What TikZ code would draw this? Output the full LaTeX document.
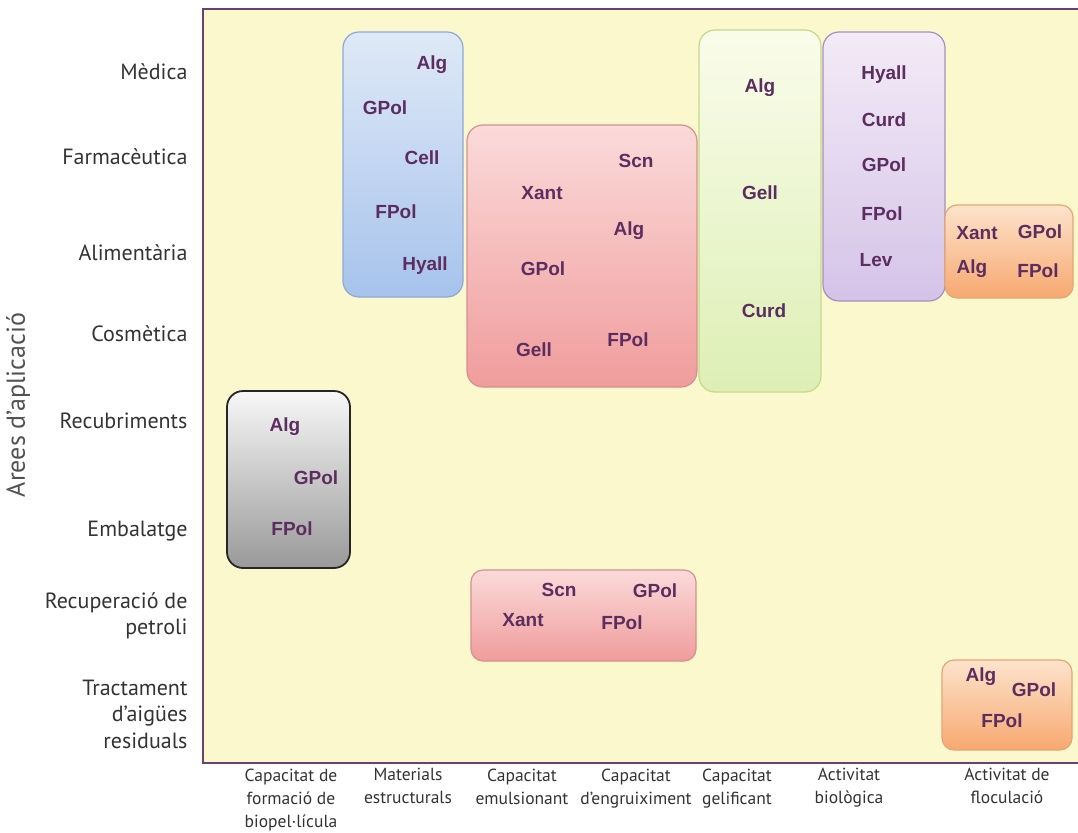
\documentclass[tikz,border=0pt]{standalone}
\usepackage{fontspec}
\setmainfont{PT Sans}
\newfontfamily\abbrfont{Liberation Sans}
\definecolor{plotyellow}{HTML}{FCF8CE}
\definecolor{framepurple}{HTML}{6E3F73}
\definecolor{polytext}{HTML}{5C2D5F}
\definecolor{labgray}{HTML}{333333}
\definecolor{bluetop}{HTML}{DFE9F7}
\definecolor{bluebot}{HTML}{A7C3EC}
\definecolor{blueedge}{HTML}{8DA9D8}
\definecolor{pinktop}{HTML}{FBDADA}
\definecolor{pinkbot}{HTML}{F09C9C}
\definecolor{pinkedge}{HTML}{D69090}
\definecolor{greentop}{HTML}{FAFCEB}
\definecolor{greenbot}{HTML}{DDEFB5}
\definecolor{greenedge}{HTML}{C3DA8A}
\definecolor{lilactop}{HTML}{F3EBF7}
\definecolor{lilacbot}{HTML}{D5C3E8}
\definecolor{lilacedge}{HTML}{A98FC0}
\definecolor{orangetop}{HTML}{FDE3CC}
\definecolor{orangebot}{HTML}{F7A870}
\definecolor{orangeedge}{HTML}{E4A676}

\begin{document}
\begin{tikzpicture}[x=1pt,y=-1pt,
  panel/.style={draw, rounded corners=16pt, line width=1.2pt, inner sep=0pt},
  poly/.style={font=\abbrfont\bfseries\fontsize{19}{19}\selectfont, text=polytext},
  area/.style={anchor=east, align=right, font=\fontsize{22}{26.5}\selectfont, text=labgray},
  skill/.style={anchor=north, align=center, font=\fontsize{17.5}{23}\selectfont, text=labgray}]
\useasboundingbox (0,0) rectangle (1078,832);

% plot area
\fill[plotyellow] (203,9) rectangle (1080,763);
\draw[framepurple, line width=2.5pt] (1080,9) -- (203,9) -- (203,763) -- (1080,763);

% axis title
\node[rotate=90, font=\fontsize{26}{26}\selectfont, text=labgray!85] (ytitle) at (18,405) {Arees d’aplicació};

% areas of application
\node[area] (med) at (191,72) {Mèdica};
\node[area] (farm) at (191,157) {Farmacèutica};
\node[area] (alim) at (191,253) {Alimentària};
\node[area] (cosm) at (191,334) {Cosmètica};
\node[area] (recub) at (191,421) {Recubriments};
\node[area] (embal) at (191,531) {Embalatge};
\node[area] (petr) at (191,616) {Recuperació de\\petroli};
\node[area] (aigues) at (191,714) {Tractament\\d’aigües\\residuals};

% properties
\node[skill] (biopel) at (291,765) {Capacitat de\\formació de\\biopel·lícula};
\node[skill] (estruct) at (408,765) {Materials\\estructurals};
\node[skill] (emuls) at (522,765) {Capacitat\\emulsionant};
\node[skill] (engr) at (636,765) {Capacitat\\d’engruiximent};
\node[skill] (gelif) at (737,765) {Capacitat\\gelificant};
\node[skill] (biol) at (849,765) {Activitat\\biològica};
\node[skill] (flocul) at (1007,765) {Activitat de\\floculació};

% panels
\node[panel, draw=blueedge, top color=bluetop, bottom color=bluebot,
  minimum width=120pt, minimum height=265pt] (matbox) at (403,164.5) {};
\node[panel, draw=pinkedge, top color=pinktop, bottom color=pinkbot,
  minimum width=230pt, minimum height=262pt] (emulbox) at (582,256) {};
\node[panel, draw=greenedge, top color=greentop, bottom color=greenbot,
  minimum width=122pt, minimum height=362pt] (gelbox) at (760,211) {};
\node[panel, draw=lilacedge, top color=lilactop, bottom color=lilacbot,
  minimum width=122pt, minimum height=269pt] (biobox) at (884,166.5) {};
\node[panel, rounded corners=12pt, draw=orangeedge, top color=orangetop, bottom color=orangebot,
  minimum width=128pt, minimum height=93pt] (flocbox) at (1009,251.5) {};
\node[panel, draw=black!85, line width=1.8pt, top color=black!3, bottom color=black!40,
  minimum width=123pt, minimum height=177pt] (pelbox) at (288.5,479.5) {};
\node[panel, rounded corners=12pt, draw=pinkedge, top color=pinktop, bottom color=pinkbot,
  minimum width=225pt, minimum height=91pt] (petrbox) at (583.5,615.5) {};
\node[panel, rounded corners=12pt, draw=orangeedge, top color=orangetop, bottom color=orangebot,
  minimum width=130pt, minimum height=90pt] (aigbox) at (1007,705) {};

% polymers, materials estructurals
\node[poly] (m1) at (432,65) {Alg};
\node[poly] (m2) at (385,108) {GPol};
\node[poly] (m3) at (422,158) {Cell};
\node[poly] (m4) at (396,212) {FPol};
\node[poly] (m5) at (425,266) {Hyall};
% emulsionant / engruiximent
\node[poly] (e1) at (636,161) {Scn};
\node[poly] (e2) at (542,193) {Xant};
\node[poly] (e3) at (629,231) {Alg};
\node[poly] (e4) at (543,269) {GPol};
\node[poly] (e5) at (628,340) {FPol};
\node[poly] (e6) at (534,350) {Gell};
% gelificant
\node[poly] (g1) at (760,88) {Alg};
\node[poly] (g2) at (760,193) {Gell};
\node[poly] (g3) at (764,311) {Curd};
% biologica
\node[poly] (b1) at (884,75) {Hyall};
\node[poly] (b2) at (884,120) {Curd};
\node[poly] (b3) at (884,165) {GPol};
\node[poly] (b4) at (882,214) {FPol};
\node[poly] (b5) at (876,260) {Lev};
% floculacio, alimentaria
\node[poly] (f1) at (977,233) {Xant};
\node[poly] (f2) at (1040,232) {GPol};
\node[poly] (f3) at (972,269) {Alg};
\node[poly] (f4) at (1038,271) {FPol};
% biopel-licula
\node[poly] (p1) at (285,427) {Alg};
\node[poly] (p2) at (316,478) {GPol};
\node[poly] (p3) at (292,529) {FPol};
% petroli
\node[poly] (r1) at (559,590) {Scn};
\node[poly] (r2) at (655,591) {GPol};
\node[poly] (r3) at (523,620) {Xant};
\node[poly] (r4) at (622,623) {FPol};
% aigues residuals
\node[poly] (a1) at (981,677) {Alg};
\node[poly] (a2) at (1034,690) {GPol};
\node[poly] (a3) at (1002,721) {FPol};
\end{tikzpicture}
\end{document}
